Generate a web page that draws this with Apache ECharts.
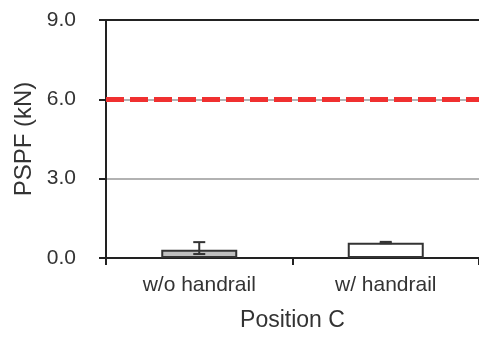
<!DOCTYPE html>
<html lang="en">
<head>
  <meta charset="UTF-8">
  <title>PSPF Position C</title>
  <script src="https://cdn.jsdelivr.net/npm/echarts@6/dist/echarts.min.js"></script>
  <style>
    html, body { margin: 0; padding: 0; background: #fff; }
  </style>
</head>
<body>
  <div id="main" style="width: 479px;height:337px;"></div>
  <script>
    // data
    var categories = ['w/o handrail', 'w/ handrail'];
    var means = [0.31, 0.58];
    var errLow = [0.15, 0.56];
    var errHigh = [0.60, 0.61];
    var barColors = ['#c0c0c0', '#ffffff'];
    var limitValue = 6.0;

    var font = '"Liberation Sans", Arial, sans-serif';
    var myChart = echarts.init(document.getElementById('main'));

    var errData = categories.map(function (c, i) {
      return [i, errLow[i], errHigh[i]];
    });

    var option = {
      animation: false,
      grid: { left: 106, right: 0, top: 20, bottom: 77 },
      xAxis: [{
        type: 'category',
        data: categories,
        name: 'Position C',
        nameLocation: 'middle',
        nameGap: 51,
        nameTextStyle: { fontFamily: font, fontSize: 23, color: '#333' },
        axisLine: { lineStyle: { color: '#222', width: 2 } },
        axisTick: { show: true, length: 7, lineStyle: { color: '#222', width: 2 } },
        axisLabel: { fontFamily: font, fontSize: 21, color: '#333', margin: 17 }
      }, {
        type: 'category',
        data: categories,
        position: 'top',
        axisLine: { lineStyle: { color: '#222', width: 2 } },
        axisTick: { show: false },
        axisLabel: { show: false }
      }],
      yAxis: {
        type: 'value',
        min: 0,
        max: 9,
        interval: 3,
        name: 'PSPF (kN)',
        nameLocation: 'middle',
        nameGap: 65,
        nameTextStyle: { fontFamily: font, fontSize: 24, color: '#333' },
        axisLine: { show: true, lineStyle: { color: '#222', width: 2 } },
        axisTick: { show: true, inside: false, length: 7, lineStyle: { color: '#222', width: 2 } },
        axisLabel: {
          fontFamily: font, fontSize: 21, color: '#333', margin: 30,
          formatter: function (v) { return v.toFixed(1); }
        },
        splitLine: { show: true, lineStyle: { color: '#999', width: 1.5 } }
      },
      series: [
        {
          name: 'PSPF',
          type: 'bar',
          barWidth: 76,
          data: means.map(function (v, i) {
            return { value: v, itemStyle: { color: barColors[i] } };
          }),
          itemStyle: { borderColor: '#333', borderWidth: 2 },
          markLine: {
            silent: true,
            symbol: 'none',
            label: { show: false },
            lineStyle: { color: '#f03030', width: 5, type: [18, 6] },
            data: [{ yAxis: limitValue }]
          },
          z: 2
        },
        {
          name: 'error',
          type: 'custom',
          data: errData,
          renderItem: function (params, api) {
            var x = api.coord([api.value(0), 0])[0];
            var lo = api.coord([api.value(0), api.value(1)]);
            var hi = api.coord([api.value(0), api.value(2)]);
            var hw = 6;
            var style = { stroke: '#333', lineWidth: 2 };
            return {
              type: 'group',
              children: [
                { type: 'line', shape: { x1: x, y1: hi[1], x2: x, y2: lo[1] }, style: style },
                { type: 'line', shape: { x1: x - hw, y1: hi[1], x2: x + hw, y2: hi[1] }, style: style },
                { type: 'line', shape: { x1: x - hw, y1: lo[1], x2: x + hw, y2: lo[1] }, style: style }
              ]
            };
          },
          z: 3
        }
      ]
    };

    myChart.setOption(option);
  </script>
</body>
</html>
